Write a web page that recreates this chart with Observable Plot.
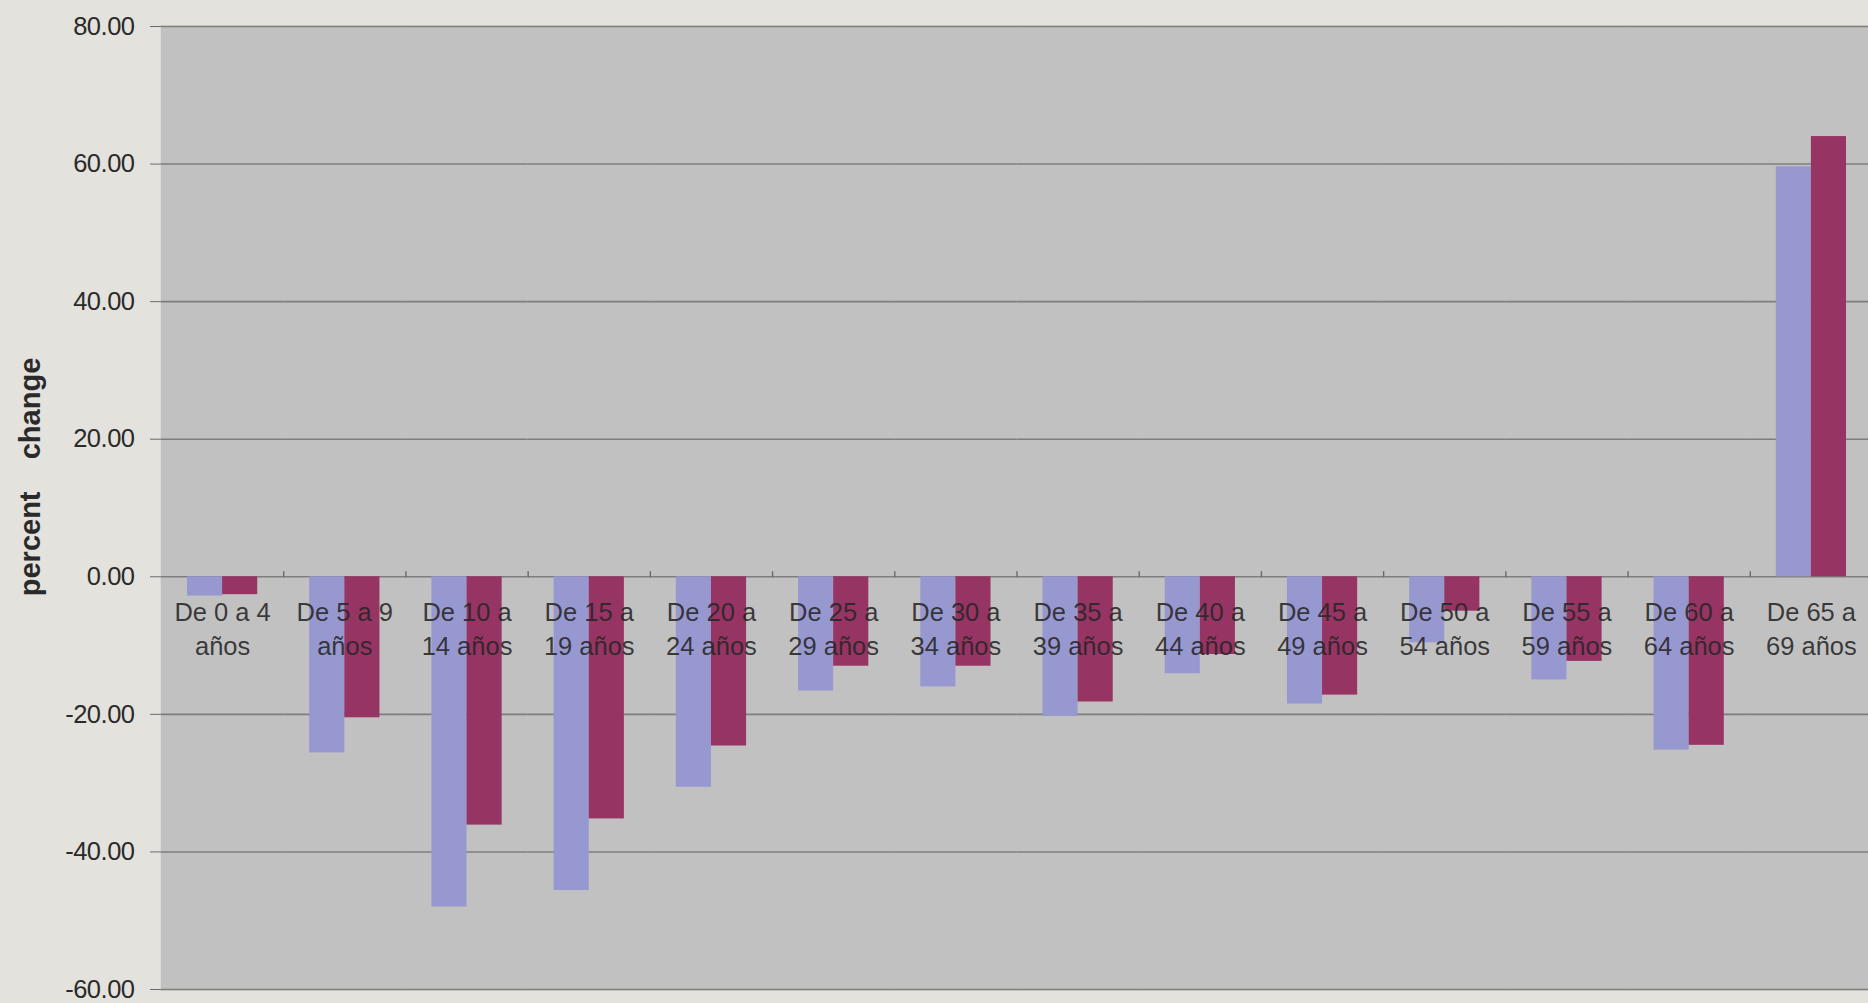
<!DOCTYPE html>
<html>
<head>
<meta charset="utf-8">
<script src="https://cdn.jsdelivr.net/npm/d3@7"></script>
<script src="https://cdn.jsdelivr.net/npm/@observablehq/plot@0.6"></script>
<style>
  html, body { margin: 0; padding: 0; background: #e4e2dd; overflow: hidden; }
  #chart svg { display: block; }
</style>
</head>
<body>
<div id="chart"></div>
<script>
// Age groups (categories)
const categories = [
  "De 0 a 4 años", "De 5 a 9 años", "De 10 a 14 años", "De 15 a 19 años",
  "De 20 a 24 años", "De 25 a 29 años", "De 30 a 34 años", "De 35 a 39 años",
  "De 40 a 44 años", "De 45 a 49 años", "De 50 a 54 años", "De 55 a 59 años",
  "De 60 a 64 años", "De 65 a 69 años"
];
// Tick labels as they wrap in the chart
const tickLabels = [
  "De 0 a 4\naños", "De 5 a 9\naños", "De 10 a\n14 años", "De 15 a\n19 años",
  "De 20 a\n24 años", "De 25 a\n29 años", "De 30 a\n34 años", "De 35 a\n39 años",
  "De 40 a\n44 años", "De 45 a\n49 años", "De 50 a\n54 años", "De 55 a\n59 años",
  "De 60 a\n64 años", "De 65 a\n69 años"
];
const series = ["Serie 1", "Serie 2"];
// percent change, series 1 (lavender) and series 2 (plum)
const serie1 = [-2.8, -25.6, -48.0, -45.6, -30.6, -16.6, -16.0, -20.3, -14.1, -18.5, -9.6, -15.0, -25.2, 59.6];
const serie2 = [-2.6, -20.5, -36.1, -35.2, -24.6, -13.0, -13.0, -18.2, -11.3, -17.2, -5.0, -12.3, -24.5, 64.0];
const yTicks = [-60, -40, -20, 0, 20, 40, 60, 80];
const yLabel = "percent\u00a0\u00a0\u00a0\u00a0change";
const colors = ["#9898d0", "#963463"];

const rows = categories.flatMap((c, i) => [
  {cat: c, serie: series[0], value: serie1[i]},
  {cat: c, serie: series[1], value: serie2[i]}
]);

const tickShape = {draw(context, l) { context.moveTo(0, 0); context.lineTo(0, -l); }};

const chart = Plot.plot({
  width: 1868,
  height: 1003,
  marginLeft: 161,
  marginRight: -4,
  marginTop: 26,
  marginBottom: 14,
  style: {fontFamily: "'Liberation Sans', Arial, sans-serif", background: "transparent", overflow: "hidden"},
  fx: {domain: categories, padding: 0, round: false, axis: null},
  x: {domain: series, paddingInner: 0, paddingOuter: 0.74, round: false, axis: null},
  y: {domain: [-60, 80], axis: null},
  color: {domain: series, range: colors},
  marks: [
    Plot.frame({fill: "#c1c1c1", stroke: "#c1c1c1", strokeWidth: 1.5}),
    Plot.ruleY(yTicks, {stroke: "#7e7e7e", strokeWidth: 1.6}),
    Plot.barY(rows, {fx: "cat", x: "serie", y: "value", fill: "serie"}),
    Plot.vector(categories.slice(1), {
      fx: d => d, y: () => 0, frameAnchor: "left", length: 5, rotate: 0,
      anchor: "start", stroke: "#6a6a6a", fill: "none", strokeWidth: 1.4, shape: tickShape
    }),
    Plot.text(categories, {
      fx: d => d, y: () => 0, text: d => tickLabels[categories.indexOf(d)],
      lineAnchor: "top", dy: 21, fontSize: 25.5, lineHeight: 1.31, fill: "#262626", fillOpacity: 0.88
    }),
    Plot.axisY(yTicks, {
      anchor: "left", tickFormat: d => d.toFixed(2), tickSize: 11, tickPadding: 16,
      fontSize: 25.5, color: "#2a2a2a", stroke: "#6a6a6a", line: true, label: null
    }),
    Plot.text([yLabel], {
      fx: () => categories[0], frameAnchor: "left", textAnchor: "middle", rotate: -90, dx: -131, dy: -31,
      fontSize: 29, fontWeight: "bold", fill: "#2a2a2a", ariaLabel: "ylabel"
    })
  ]
});

document.getElementById("chart").appendChild(chart);
d3.select(chart).selectAll('[aria-label="ylabel"] text').attr("letter-spacing", "2px");
d3.select(chart).selectAll('[aria-label="y-axis tick label"]').attr("letter-spacing", "-0.5px");
</script>
</body>
</html>
